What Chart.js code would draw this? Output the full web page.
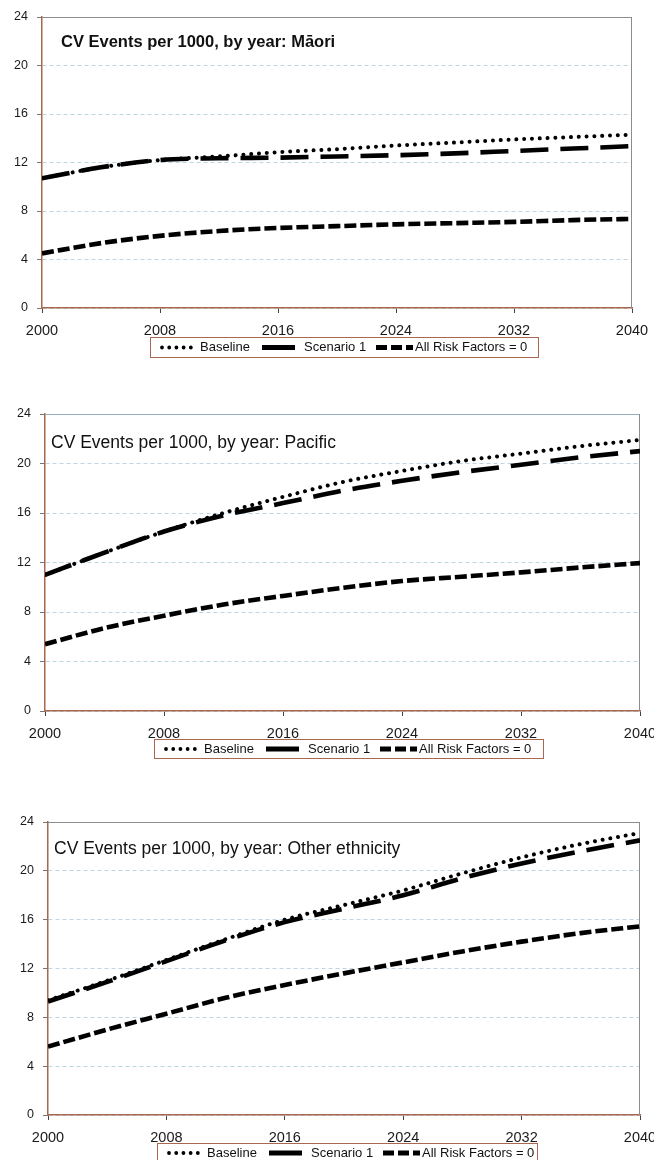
<!DOCTYPE html>
<html>
<head>
<meta charset="utf-8">
<script src="https://cdn.jsdelivr.net/npm/chart.js@4.4.1/dist/chart.umd.min.js"></script>
<style>
  body { margin: 0; background: #fff; }
  canvas { position: absolute; left: 0; }
</style>
</head>
<body>
<canvas id="c1" width="654" height="370" style="top:0"></canvas>
<canvas id="c2" width="654" height="390" style="top:380px"></canvas>
<canvas id="c3" width="654" height="370" style="top:790px"></canvas>
<script>
// values, every 4 years
const years = [2000, 2004, 2008, 2012, 2016, 2020, 2024, 2028, 2032, 2036, 2040];
const yearTicks = [2000, 2008, 2016, 2024, 2032, 2040];
const rateTicks = [0, 4, 8, 12, 16, 20, 24];
const seriesNames = ['Baseline', 'Scenario 1', 'All Risk Factors = 0'];
const titles = [
    'CV Events per 1000, by year: M\u0101ori',
    'CV Events per 1000, by year: Pacific',
    'CV Events per 1000, by year: Other ethnicity'
];

const maoriBaseline = [10.7, 11.6, 12.2, 12.5, 12.85, 13.1, 13.4, 13.65, 13.9, 14.1, 14.3];
const maoriScenario1 = [10.7, 11.6, 12.2, 12.35, 12.4, 12.5, 12.6, 12.75, 12.95, 13.15, 13.35];
const maoriRiskZero = [4.5, 5.35, 5.95, 6.35, 6.6, 6.75, 6.9, 7.0, 7.1, 7.25, 7.35];

const pacificBaseline = [11.0, 12.8, 14.5, 16.0, 17.3, 18.5, 19.4, 20.2, 20.8, 21.4, 21.9];
const pacificScenario1 = [11.0, 12.8, 14.5, 15.8, 16.8, 17.8, 18.6, 19.3, 19.9, 20.5, 21.0];
const pacificRiskZero = [5.4, 6.7, 7.7, 8.6, 9.3, 9.95, 10.5, 10.85, 11.2, 11.6, 11.95];

const otherBaseline = [9.4, 11.0, 12.7, 14.4, 16.0, 17.2, 18.4, 19.8, 21.1, 22.2, 23.1];
const otherScenario1 = [9.3, 10.9, 12.6, 14.3, 15.8, 16.9, 18.0, 19.4, 20.6, 21.6, 22.5];
const otherRiskZero = [5.6, 7.0, 8.3, 9.6, 10.65, 11.6, 12.5, 13.4, 14.2, 14.9, 15.45];

Chart.defaults.font.family = '"Liberation Sans", Arial, sans-serif';

const axisBrown = '#a8674e';
const lineStyles = [
    { dash: [0.01, 7.8], cap: 'round', width: 4 },
    { dash: [28, 12], cap: 'butt', width: 4.6 },
    { dash: [12, 4], cap: 'butt', width: 4.6 }
];
// legend samples differ from the plotted lines (scenario 1 is solid there)
const legendStyles = [
    { dash: [0.01, 7.2], cap: 'round', width: 3.8 },
    { dash: [], cap: 'butt', width: 5 },
    { dash: [11, 4], cap: 'butt', width: 5 }
];

function toPoints(values) {
    return values.map((v, i) => ({ x: years[i], y: v }));
}

const framePlugin = {
    id: 'frame',
    beforeDatasetsDraw(chart, args, opts) {
        const { ctx, chartArea: a } = chart;
        ctx.save();
        ctx.lineWidth = 1;
        ctx.strokeStyle = opts.topColor;
        ctx.beginPath();
        ctx.moveTo(a.left, a.top + 0.5);
        ctx.lineTo(a.right, a.top + 0.5);
        ctx.stroke();
        ctx.strokeStyle = opts.rightColor;
        ctx.beginPath();
        ctx.moveTo(a.right - 0.5, a.top);
        ctx.lineTo(a.right - 0.5, a.bottom);
        ctx.stroke();
        ctx.restore();
    },
    afterDraw(chart, args, opts) {
        const ctx = chart.ctx;
        ctx.save();
        // title sits inside the plot
        ctx.fillStyle = '#111';
        ctx.font = opts.titleFont;
        ctx.textBaseline = 'middle';
        ctx.fillText(opts.title, opts.titleX, opts.titleY);

        // legend box under the axis
        const L = opts.legend;
        ctx.fillStyle = '#fff';
        ctx.fillRect(L.x, L.y, L.w, L.h);
        ctx.strokeStyle = axisBrown;
        ctx.lineWidth = 1;
        ctx.strokeRect(L.x + 0.5, L.y + 0.5, L.w, L.h);
        const mid = L.y + L.h / 2 + 0.5;
        const slots = [[12, 44, 50], [112, 145, 154], [226, 263, 265]];
        ctx.font = '13px "Liberation Sans", Arial, sans-serif';
        seriesNames.forEach((name, i) => {
            const s = legendStyles[i];
            ctx.strokeStyle = '#000';
            ctx.lineWidth = s.width;
            ctx.lineCap = s.cap;
            ctx.setLineDash(s.dash);
            ctx.beginPath();
            ctx.moveTo(L.x + slots[i][0], mid);
            ctx.lineTo(L.x + slots[i][1], mid);
            ctx.stroke();
            ctx.setLineDash([]);
            ctx.fillStyle = '#111';
            ctx.fillText(name, L.x + slots[i][2], mid);
        });
        ctx.restore();
    }
};

function makeChart(id, series, box) {
    const datasets = series.map((values, i) => ({
        label: seriesNames[i],
        data: toPoints(values),
        borderColor: '#000',
        borderWidth: lineStyles[i].width,
        borderDash: lineStyles[i].dash,
        borderCapStyle: lineStyles[i].cap,
        pointRadius: 0,
        cubicInterpolationMode: 'monotone',
        fill: false
    }));

    return new Chart(document.getElementById(id), {
        type: 'line',
        data: { datasets: datasets },
        plugins: [framePlugin],
        options: {
            responsive: false,
            animation: false,
            devicePixelRatio: 1,
            layout: {
                padding: { left: 0, top: box.top, right: 654 - box.right, bottom: box.height - box.bottom - 30 }
            },
            scales: {
                x: {
                    type: 'linear',
                    min: 2000,
                    max: 2040,
                    afterBuildTicks: s => { s.ticks = yearTicks.map(v => ({ value: v })); },
                    afterFit: s => { s.height = 30; s.paddingLeft = 0; s.paddingRight = 0; },
                    grid: { drawOnChartArea: false, drawTicks: true, tickLength: 5, tickColor: '#444' },
                    border: { color: axisBrown, width: 1.5 },
                    ticks: {
                        padding: 9,
                        maxRotation: 0,
                        color: '#1a1a1a',
                        font: { size: 14.5 },
                        callback: v => String(v)
                    }
                },
                y: {
                    min: 0,
                    max: 24,
                    afterBuildTicks: s => { s.ticks = rateTicks.map(v => ({ value: v })); },
                    afterFit: s => { s.width = box.left; s.paddingTop = 0; s.paddingBottom = 0; },
                    grid: { color: '#bdd5e4', lineWidth: 1, tickLength: 5, tickColor: '#777' },
                    border: { color: axisBrown, width: 1.5, dash: [4, 3] },
                    ticks: { padding: 9, color: '#1a1a1a', font: { size: 12.5 } }
                }
            },
            plugins: {
                legend: { display: false },
                tooltip: { enabled: false },
                frame: {
                    topColor: box.topColor,
                    rightColor: '#8c8c8c',
                    title: box.title,
                    titleFont: box.titleFont,
                    titleX: box.titleX,
                    titleY: box.titleY,
                    legend: box.legend
                }
            }
        }
    });
}

makeChart('c1', [maoriBaseline, maoriScenario1, maoriRiskZero], {
    left: 42, right: 632, top: 17, bottom: 308, height: 370,
    topColor: '#8c8c8c',
    title: titles[0], titleFont: 'bold 16.5px "Liberation Sans", Arial, sans-serif', titleX: 61, titleY: 42,
    legend: { x: 150, y: 337, w: 388, h: 20 }
});

makeChart('c2', [pacificBaseline, pacificScenario1, pacificRiskZero], {
    left: 45, right: 640, top: 34, bottom: 331, height: 390,
    topColor: '#98adbb',
    title: titles[1], titleFont: '17.5px "Liberation Sans", Arial, sans-serif', titleX: 51, titleY: 63,
    legend: { x: 154, y: 359, w: 389, h: 19 }
});

makeChart('c3', [otherBaseline, otherScenario1, otherRiskZero], {
    left: 48, right: 640, top: 32, bottom: 325, height: 370,
    topColor: '#8c8c8c',
    title: titles[2], titleFont: '17.5px "Liberation Sans", Arial, sans-serif', titleX: 54, titleY: 59,
    legend: { x: 157, y: 353, w: 380, h: 19 }
});
</script>
</body>
</html>
